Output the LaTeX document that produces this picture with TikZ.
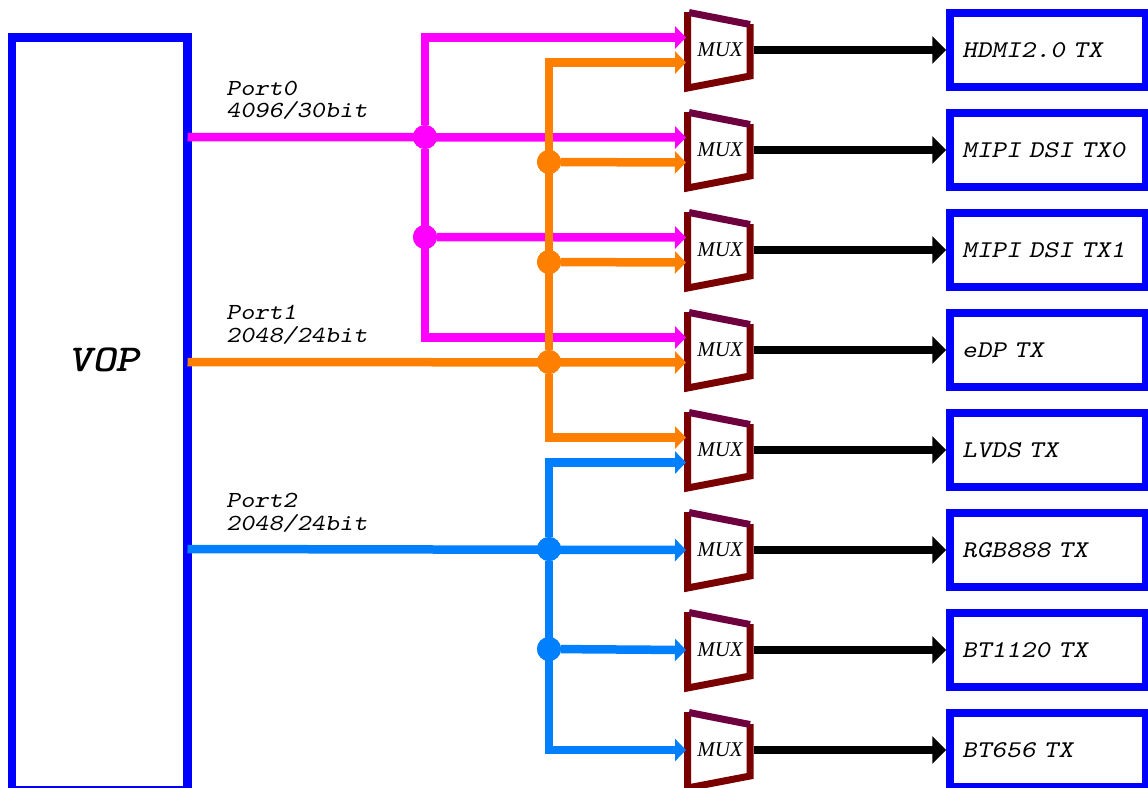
\documentclass[tikz,border=0pt]{standalone}
\usepackage{fontspec}
\setmainfont{Liberation Serif}
\newfontfamily\courf{lmmonoslant10-regular}[Extension=.otf,FakeStretch=1.17]
\newfontfamily\vopf{lmmonolt10-boldoblique}[Extension=.otf,FakeStretch=1.2]
\usetikzlibrary{arrows.meta,calc}
\definecolor{magc}{HTML}{FF00FF}
\definecolor{orac}{HTML}{FF8000}
\definecolor{bluc}{HTML}{0080FF}
\definecolor{boxc}{HTML}{0000FF}
\definecolor{muxc}{HTML}{7A0000}
\definecolor{muxtop}{HTML}{6E0040}
\begin{document}
\begin{tikzpicture}[x=1pt,y=-1pt,
  inarrow/.style={line width=8.5pt,-{Triangle[length=11pt,width=22pt]}},
  outarrow/.style={line width=8pt,black,-{Triangle[length=14pt,width=27pt]}},
  junction/.style={circle,inner sep=0pt,minimum size=24pt},
  txbox/.style={draw=boxc,line width=7.5pt,minimum width=196pt,minimum height=74pt,
    text width=172pt,inner xsep=12pt,align=left,
    font=\courf\fontsize{24}{24}\selectfont},
  vopbox/.style={draw=boxc,line width=8.5pt},
  portlabel/.style={anchor=base west,inner sep=0pt,font=\courf\fontsize{23}{23}\selectfont},
  muxlabel/.style={inner sep=0pt,font=\itshape\fontsize{21}{21}\selectfont},
  muxbody/.style={draw=muxc,line width=7pt},
  muxedge/.style={draw=muxtop,line width=7pt}
]
\useasboundingbox (0,0) rectangle (1148,787);

% VOP
\draw[vopbox] (12,37.5) rectangle (187.5,790);
\node[inner sep=0pt,font=\vopf\fontsize{38}{38}\selectfont] (vop) at (104,360) {VOP};
\coordinate (p0) at (187.5,137);
\coordinate (p1) at (187.5,362);
\coordinate (p2) at (187.5,549);

\node[portlabel] (l0a) at (226,95) {Port0};
\node[portlabel] (l0b) at (226,117) {4096/30bit};
\node[portlabel] (l1a) at (226,319) {Port1};
\node[portlabel] (l1b) at (226,342) {2048/24bit};
\node[portlabel] (l2a) at (226,507) {Port2};
\node[portlabel] (l2b) at (226,530) {2048/24bit};

% MUXes and TX boxes
\foreach \i/\t in {1/HDMI2.0 TX,2/MIPI DSI TX0,3/MIPI DSI TX1,4/eDP TX,5/LVDS TX,6/RGB888 TX,7/BT1120 TX,8/BT656 TX}{
  \pgfmathsetmacro\yc{50+100*(\i-1)}
  \draw[muxbody] (687.5,\yc-38) -- (687.5,\yc+38) -- (750,\yc+26) -- (750,\yc-26);
  \draw[muxedge] (689,\yc-37.5) -- (750,\yc-25.5);
  \node[muxlabel] (m\i) at (720,\yc) {MUX};
  \coordinate (m\i-a) at (686,\yc-12.5);
  \coordinate (m\i-b) at (686,\yc+12.5);
  \coordinate (m\i-c) at (686,\yc);
  \coordinate (m\i-o) at (753.5,\yc);
  \node[txbox] (t\i) at (1048,\yc) {\t};
  \draw[outarrow] (m\i-o) -- (t\i.west);
}

% junctions
\node[junction,fill=magc] (ja) at (425,137) {};
\node[junction,fill=magc] (jb) at (425,237) {};
\node[junction,fill=orac] (jc) at (549,162) {};
\node[junction,fill=orac] (jd) at (549,262) {};
\node[junction,fill=orac] (je) at (549,362) {};
\node[junction,fill=bluc] (jf) at (549,549) {};
\node[junction,fill=bluc] (jg) at (549,649) {};

% Port0 (magenta)
\begin{scope}[magc]
\draw[inarrow] (p0) -- (m2-a);
\draw[inarrow] (ja) |- (m1-a);
\draw[inarrow] (jb) -- (m3-a);
\draw[inarrow] (ja) |- (m4-a);
\end{scope}

% Port1 (orange)
\begin{scope}[orac]
\draw[inarrow] (p1) -- (m4-b);
\draw[inarrow] (je) |- (m1-b);
\draw[inarrow] (jc) -- (m2-b);
\draw[inarrow] (jd) -- (m3-b);
\draw[inarrow] (je) |- (m5-a);
\end{scope}

% Port2 (blue)
\begin{scope}[bluc]
\draw[inarrow] (p2) -- (m6-c);
\draw[inarrow] (jf) |- (m5-b);
\draw[inarrow] (jg) -- (m7-c);
\draw[inarrow] (jf) |- (m8-c);
\end{scope}

% redraw dots on top
\fill[magc] (ja) circle (12pt) (jb) circle (12pt);
\fill[orac] (jc) circle (12pt) (jd) circle (12pt) (je) circle (12pt);
\fill[bluc] (jf) circle (12pt) (jg) circle (12pt);
\end{tikzpicture}
\end{document}
